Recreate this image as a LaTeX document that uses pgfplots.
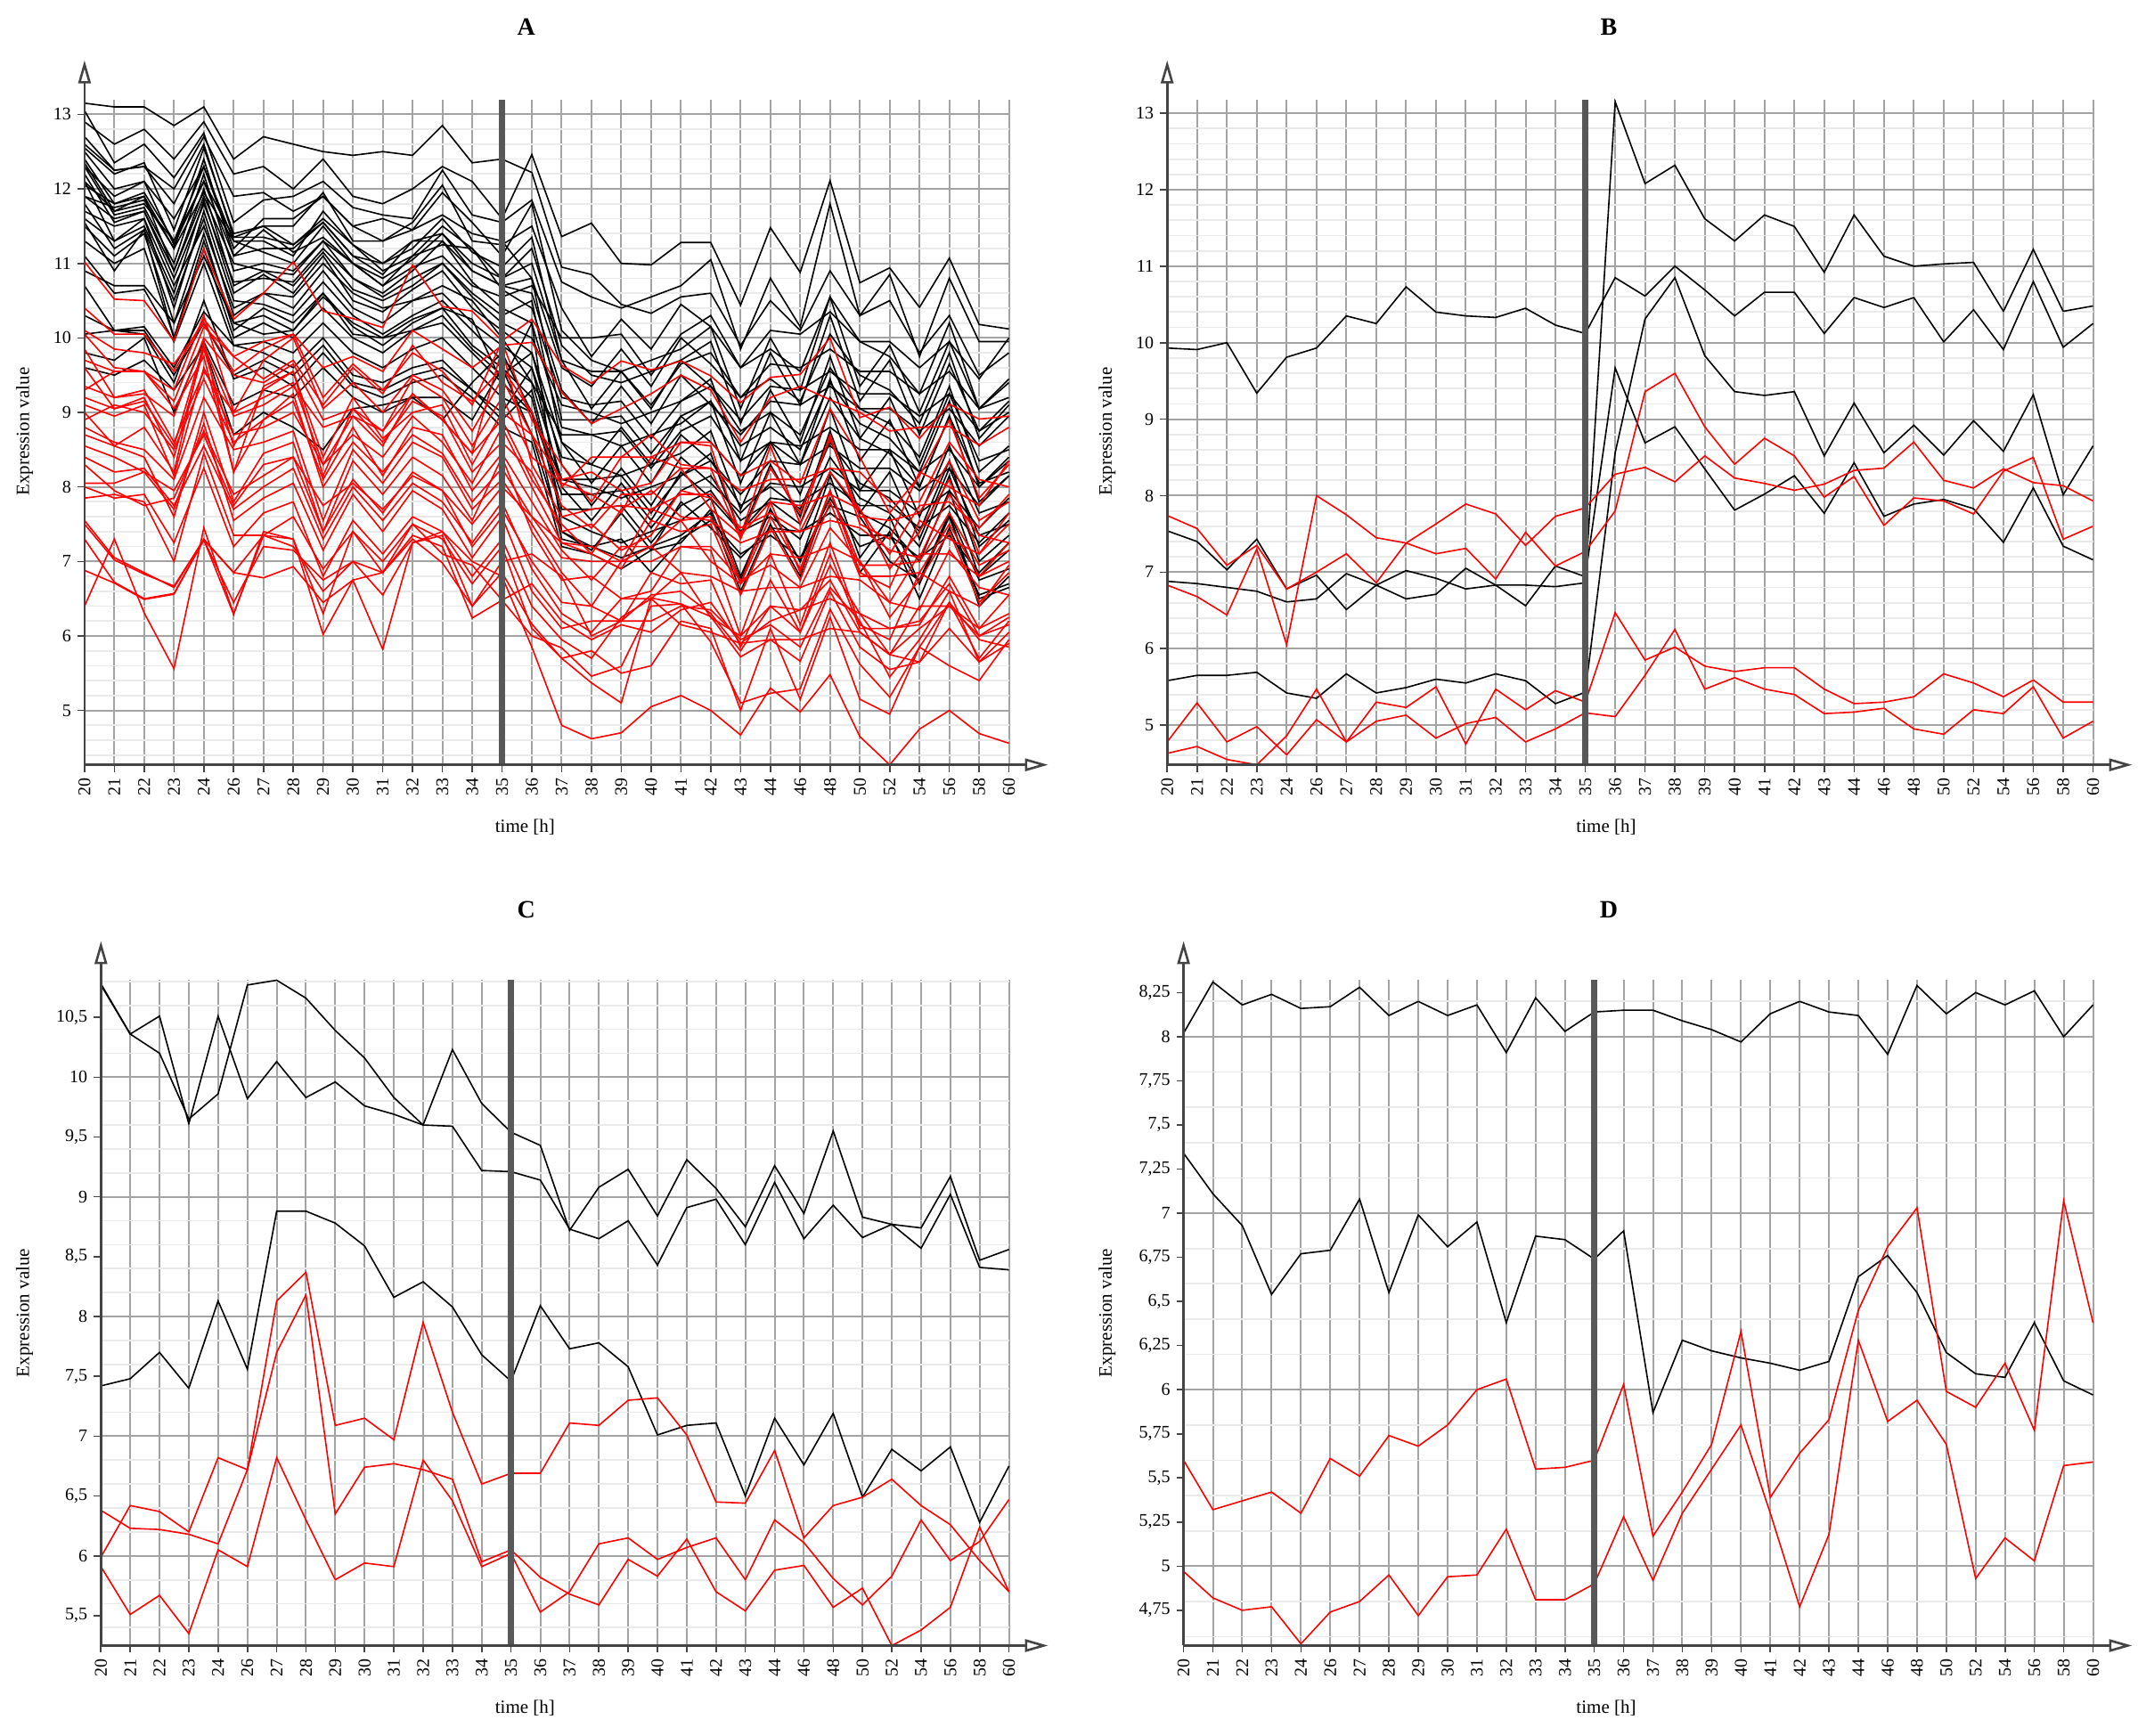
\documentclass[border=0pt]{standalone}
\usepackage{fontspec}
\setmainfont{Liberation Serif}
\usepackage{pgfplots}
\pgfplotsset{compat=1.18}
\usetikzlibrary{arrows.meta}
\definecolor{gridc}{RGB}{163,163,163}
\definecolor{minc}{RGB}{234,234,234}
\definecolor{axc}{RGB}{68,68,68}
\definecolor{barc}{RGB}{88,88,88}
\definecolor{myred}{RGB}{255,0,0}
\tikzset{axarrow/.style={axc, line width=1.3pt, -{Triangle[open, length=13pt, width=7pt]}}}
\pgfplotsset{
  panel/.style={
    scale only axis, height=373.5pt, anchor=south west,
    xmin=0, xmax=31, clip=false,
    xtick={0,...,31},
    xticklabels={20,21,22,23,24,26,27,28,29,30,31,32,33,34,35,36,37,38,39,40,41,42,43,44,46,48,50,52,54,56,58,60},
    x tick label style={rotate=90, anchor=east, font=\fontsize{10}{12}\selectfont},
    y tick label style={font=\fontsize{10}{12}\selectfont},
    xmajorgrids=true, yminorgrids=true,
    major grid style={gridc, line width=1pt},
    minor grid style={minc, line width=0.9pt},
    axis x line*=bottom, axis y line*=left,
    axis line style={draw=none},
    tick align=outside,
    major tick length=4pt, minor tick length=0pt,
    tick style={axc, line width=0.8pt},
    /pgf/number format/assume math mode=true,
  },
  blk/.style={black, line width=0.8pt},
  rd/.style={myred, line width=0.8pt},
}
\newcommand{\ser}[2]{%
  \gdef\crd{}%
  \foreach \v [count=\n from 0] in {#2} {\xdef\crd{\crd(\n,\v)}}%
  \edef\doplot{\noexpand\addplot[#1] coordinates {\crd};}%
  \doplot}
\newcommand{\axes}{%
  \draw[axarrow] (rel axis cs:0,0) -- ([xshift=22pt]rel axis cs:1,0);
  \draw[axarrow] (rel axis cs:0,0) -- ([yshift=22pt]rel axis cs:0,1);}
\begin{document}
\begin{tikzpicture}
\path[use as bounding box] (0,0) rectangle (1200pt,974.5pt);
% ---------------- A ----------------
\begin{axis}[panel, at={(47.45pt,545.15pt)}, width=518.85pt,
  ymin=4.27, ymax=13.2, ytick={5,...,13}, ymajorgrids=true,
  minor ytick={4.4,4.6,4.8,5.2,5.4,5.6,5.8,6.2,6.4,6.6,6.8,7.2,7.4,7.6,7.8,8.2,8.4,8.6,8.8,9.2,9.4,9.6,9.8,10.2,10.4,10.6,10.8,11.2,11.4,11.6,11.8,12.2,12.4,12.6,12.8}]
\ser{blk}{13.15,13.10,13.10,12.85,13.10,12.40,12.70,12.60,12.50,12.45,12.50,12.45,12.85,12.35,12.40,12.22,10.95,10.85,10.45,10.33,10.55,10.60,9.90,10.50,10.10,10.90,10.30,10.50,9.80,10.30,9.50,9.80}
\ser{blk}{12.90,12.60,12.80,12.40,12.90,12.20,12.30,12.00,12.40,11.90,11.80,12.00,12.30,12.10,11.60,12.46,11.36,11.54,11.00,10.98,11.28,11.28,10.44,11.48,10.88,12.11,10.74,10.94,10.41,11.07,10.18,10.12}
\ser{blk}{13.05,12.35,12.60,12.15,12.75,11.55,11.85,11.90,12.10,11.75,11.65,11.60,12.25,11.65,11.55,11.85,10.75,10.55,10.40,10.55,10.70,11.05,9.85,10.80,10.15,11.80,10.30,10.85,9.75,10.80,9.95,9.95}
\ser{blk}{12.70,12.25,12.30,11.80,12.60,11.35,11.50,11.50,11.95,11.30,11.30,11.55,12.05,11.30,11.25,11.50,10.40,9.75,10.25,9.85,10.45,10.15,9.60,10.10,10.05,10.35,9.95,9.95,9.60,9.95,9.45,10.00}
\ser{blk}{12.55,12.20,12.35,11.45,12.55,11.40,11.50,11.25,11.60,11.25,11.00,11.20,11.60,11.15,10.95,11.35,9.70,9.55,9.55,9.10,9.65,9.80,9.20,9.45,9.15,10.05,9.50,9.30,8.85,9.80,8.65,9.10}
\ser{blk}{12.40,11.80,11.95,11.30,12.30,11.30,11.30,11.10,11.70,11.25,10.90,11.10,11.50,11.20,10.80,11.20,9.90,9.50,9.40,9.55,9.70,9.95,8.85,9.80,9.10,10.30,9.15,9.70,8.70,9.65,8.75,9.00}
\ser{blk}{12.35,11.70,11.90,11.20,12.40,11.10,11.45,11.15,11.35,11.00,10.80,11.05,11.40,10.90,10.70,10.60,9.30,8.85,9.35,8.85,9.50,9.10,8.70,9.15,9.10,9.35,9.05,9.05,8.75,9.05,8.55,8.95}
\ser{blk}{12.30,11.65,11.75,11.00,12.20,10.90,11.00,10.90,11.30,10.80,10.60,10.90,11.30,10.75,10.40,10.20,8.80,8.70,8.75,8.25,8.75,8.95,8.35,8.60,8.30,9.20,8.65,8.45,8.00,8.95,7.80,8.15}
\ser{blk}{12.20,11.55,11.70,10.90,12.00,10.70,10.90,10.70,11.15,10.65,10.50,10.70,11.00,10.60,10.30,10.50,8.60,8.30,8.15,8.30,8.45,8.75,7.70,8.60,7.90,9.05,7.95,8.50,7.60,8.55,7.65,7.80}
\ser{blk}{12.10,11.30,11.50,10.60,11.85,10.60,10.85,10.60,11.10,10.50,10.35,10.65,10.90,10.40,10.10,9.80,8.30,7.75,8.25,7.75,8.40,8.05,7.65,8.05,8.00,8.25,7.95,7.95,7.65,7.95,7.45,7.85}
\ser{blk}{12.05,11.80,11.90,10.90,11.90,11.00,10.90,10.85,11.30,11.00,10.70,10.95,11.10,10.70,10.55,10.70,10.00,10.00,10.05,9.50,10.05,10.30,9.60,9.85,9.55,10.55,9.95,9.75,9.25,10.20,9.05,9.40}
\ser{blk}{11.90,11.60,11.70,10.80,11.80,10.75,10.80,10.75,11.20,10.80,10.55,10.80,11.00,10.55,10.20,10.00,9.10,9.00,8.85,9.00,9.15,9.45,8.35,9.30,8.60,9.75,8.65,9.20,8.30,9.25,8.35,8.50}
\ser{blk}{11.80,11.20,11.45,10.50,11.60,10.30,10.60,10.40,10.90,10.40,10.20,10.50,10.60,10.20,9.90,9.60,8.00,7.55,8.05,7.55,8.20,7.85,7.40,7.85,7.80,8.05,7.75,7.75,7.45,7.75,7.25,7.65}
\ser{blk}{11.70,11.50,11.60,10.40,11.70,10.50,10.45,10.30,10.75,10.30,10.05,10.30,10.50,10.10,9.70,9.40,8.70,8.70,8.55,8.70,8.85,9.15,8.05,9.00,8.30,9.45,8.35,8.90,8.00,8.95,8.05,8.20}
\ser{blk}{11.50,11.10,11.40,10.20,11.40,10.10,10.40,10.20,10.60,10.15,9.90,10.20,10.40,9.90,9.60,9.20,7.60,7.40,7.25,7.40,7.55,7.85,6.80,7.70,7.00,8.15,7.05,7.60,6.70,7.65,6.75,6.90}
\ser{blk}{11.55,10.90,11.45,10.00,11.30,10.20,10.30,10.10,10.55,10.20,10.00,10.10,10.30,9.85,9.50,9.80,8.60,8.05,8.55,8.05,8.70,8.35,7.90,8.35,8.30,8.55,8.25,8.25,7.95,8.25,7.75,8.15}
\ser{blk}{11.30,11.00,11.20,10.00,11.20,10.00,10.20,10.00,10.40,10.00,9.80,10.10,10.20,9.80,9.40,10.20,7.40,7.20,7.30,6.85,7.30,7.55,7.10,7.35,7.05,7.75,7.60,7.00,6.75,7.65,6.40,6.80}
\ser{blk}{11.10,10.60,10.65,9.95,11.00,9.90,9.95,9.80,10.20,9.80,9.60,9.85,10.00,9.60,9.20,9.00,8.10,8.00,7.85,8.00,8.15,8.45,7.35,8.30,7.60,8.75,7.65,8.20,7.30,8.25,7.35,7.50}
\ser{blk}{10.70,10.10,10.15,9.60,10.35,9.90,9.80,9.60,10.00,9.50,9.40,9.60,9.70,9.30,9.00,9.60,8.40,8.30,8.80,8.30,8.95,8.60,8.15,8.60,8.55,8.80,8.50,8.50,8.20,8.50,8.00,8.40}
\ser{blk}{10.30,10.10,10.10,9.50,10.20,9.50,9.70,9.50,9.90,9.40,9.30,9.50,9.60,9.30,8.90,9.30,7.70,7.70,7.75,7.25,7.75,7.95,7.40,7.60,7.30,8.20,7.65,7.45,7.00,7.95,6.80,7.15}
\ser{blk}{10.05,10.10,10.05,9.40,10.50,9.45,9.60,9.35,9.80,9.35,9.20,9.40,9.50,9.20,8.80,8.60,7.20,7.10,6.90,7.15,7.25,7.70,6.75,7.70,7.00,7.85,7.20,7.35,6.70,7.60,6.50,6.65}
\ser{blk}{9.80,9.70,10.00,9.00,9.95,9.10,9.30,9.20,9.60,9.20,9.00,9.20,9.20,8.90,9.60,8.70,7.40,7.15,7.65,7.15,7.80,7.45,7.05,7.45,7.40,7.65,7.35,7.35,7.05,7.35,6.85,7.25}
\ser{blk}{9.60,9.50,9.70,9.30,9.90,8.70,9.00,8.80,8.50,9.05,9.10,9.20,8.90,9.40,9.80,9.00,7.90,7.90,7.95,7.45,7.95,8.15,7.55,7.80,7.50,8.40,7.85,7.65,7.20,8.15,7.00,7.35}
\ser{blk}{12.60,12.25,12.30,12.00,12.70,11.90,11.95,11.70,11.90,11.50,11.60,11.45,11.95,11.55,11.10,11.80,10.10,9.70,9.55,9.70,9.85,10.15,9.05,10.00,9.30,10.55,9.35,9.90,9.00,9.95,9.05,9.20}
\ser{blk}{12.50,12.00,12.10,11.60,12.30,11.20,11.60,11.60,11.90,11.50,11.30,11.45,11.65,11.40,11.30,10.80,9.60,9.35,9.85,9.35,10.00,9.65,9.20,9.65,9.60,9.85,9.55,9.55,9.25,9.55,9.05,9.45}
\ser{blk}{12.10,11.70,11.80,11.30,12.10,11.10,11.20,11.20,11.55,11.10,10.85,11.30,11.30,10.90,10.70,10.80,8.90,8.90,8.95,8.45,8.95,9.15,8.55,8.80,8.50,9.40,8.85,8.65,8.20,9.15,8.00,8.35}
\ser{blk}{11.90,11.75,11.85,11.20,11.95,11.30,11.15,11.00,11.50,11.00,10.70,11.10,11.25,11.20,10.65,10.40,9.20,9.10,9.15,8.65,9.15,9.35,8.75,9.00,8.70,9.60,9.05,8.85,8.40,9.35,8.20,8.55}
\ser{blk}{12.30,11.90,12.10,11.25,12.10,11.35,11.35,11.25,11.55,11.10,11.00,11.30,11.40,11.00,10.80,11.00,9.70,9.05,9.55,9.05,9.70,9.35,8.90,9.35,9.30,9.55,9.25,9.25,8.95,9.25,8.75,9.15}
\ser{blk}{11.60,11.30,11.60,10.70,11.50,10.40,10.60,10.55,11.00,10.60,10.40,10.50,10.70,10.50,10.00,9.40,8.10,8.10,8.15,7.65,8.15,8.35,7.75,8.00,7.70,8.60,8.05,7.85,7.40,8.35,7.20,7.55}
\ser{blk}{10.90,10.70,10.70,10.20,11.10,10.20,10.05,10.10,10.60,10.05,10.00,10.25,10.40,10.25,9.40,9.00,7.30,7.20,7.05,7.20,7.35,7.65,6.60,7.50,6.80,7.95,6.85,7.40,6.50,7.45,6.55,6.70}
\ser{rd}{11.02,10.52,10.50,9.96,11.19,10.25,10.60,11.02,10.36,10.26,10.14,10.98,10.42,10.36,9.96,10.25,9.63,9.39,9.69,9.57,9.69,9.49,9.13,9.47,9.51,10.00,8.93,9.07,8.65,9.11,8.91,8.95}
\ser{rd}{10.40,10.05,10.05,9.55,10.25,9.75,9.95,10.05,9.60,9.75,9.55,10.10,9.85,9.60,9.90,9.94,9.27,8.85,9.05,9.25,9.50,9.30,8.60,9.20,9.35,9.17,9.00,8.75,8.80,8.81,8.56,8.80}
\ser{rd}{10.10,9.85,9.80,9.65,10.20,9.55,9.85,10.05,9.20,9.65,9.30,9.80,9.55,9.10,9.95,8.90,8.30,7.80,8.40,8.70,8.30,8.25,7.95,8.10,8.10,8.25,8.20,7.80,7.80,8.60,8.10,8.00}
\ser{rd}{10.05,9.60,9.55,9.30,10.30,9.00,9.70,10.00,9.05,9.40,9.00,9.50,9.30,8.75,9.45,8.70,8.10,8.20,7.95,8.05,8.60,8.55,7.35,8.55,7.50,8.70,7.50,7.30,8.20,8.00,7.75,8.35}
\ser{rd}{9.85,9.20,9.25,8.95,10.00,9.50,9.40,9.65,8.90,9.05,8.75,9.45,9.20,8.55,9.20,8.40,8.05,7.90,7.65,8.40,8.25,8.25,7.30,8.25,7.65,8.65,7.60,7.55,7.65,8.35,7.55,7.80}
\ser{rd}{9.70,9.55,9.55,9.05,9.75,8.20,9.35,9.55,8.40,9.20,8.65,9.00,9.10,8.30,9.00,8.70,7.75,7.45,7.90,7.90,8.25,7.70,7.35,7.80,7.75,7.90,7.70,7.10,7.75,7.80,7.45,7.90}
\ser{rd}{9.60,9.05,9.15,8.55,9.90,8.95,9.10,9.35,8.80,8.95,8.55,9.25,8.90,8.45,9.85,8.30,7.60,7.70,7.75,7.70,7.90,7.90,7.45,7.65,7.40,8.20,7.70,6.90,7.40,8.10,7.10,7.50}
\ser{rd}{9.35,9.20,9.30,8.60,9.55,9.00,9.20,9.40,8.30,8.95,8.75,9.25,8.90,8.45,8.90,8.10,7.50,7.10,7.70,7.95,7.60,7.55,7.25,7.40,7.40,7.55,7.45,7.15,7.05,7.90,7.35,7.25}
\ser{rd}{9.20,9.05,9.20,8.40,9.85,8.55,9.30,9.55,8.15,9.05,8.60,9.15,8.95,8.20,8.60,8.20,7.40,7.50,7.15,7.35,7.95,7.85,6.70,7.80,6.85,7.95,6.85,6.65,7.55,7.30,7.10,7.65}
\ser{rd}{9.10,8.95,9.10,8.15,9.60,8.70,8.80,9.00,8.30,8.70,8.40,8.95,8.60,8.05,8.80,8.00,7.25,7.10,6.90,7.55,7.40,7.50,6.55,7.45,6.75,7.80,6.80,6.80,6.85,7.50,6.80,7.00}
\ser{rd}{9.00,8.55,8.80,8.20,9.95,8.20,8.90,9.15,8.10,8.80,8.15,8.80,8.70,7.95,8.45,7.80,7.15,6.75,7.20,7.20,7.55,7.00,6.70,7.10,7.05,7.20,7.00,6.45,7.10,7.10,6.80,7.25}
\ser{rd}{8.90,9.10,9.00,8.50,9.45,8.60,8.90,9.25,8.00,8.60,8.20,8.70,8.45,7.80,8.25,7.60,7.05,7.00,7.00,7.00,7.20,7.20,6.75,6.95,6.65,7.45,7.00,6.25,6.75,7.40,6.45,6.85}
\ser{rd}{8.80,8.60,8.50,8.10,9.20,8.50,8.60,8.75,7.55,8.50,8.05,8.60,8.40,7.70,8.10,7.50,6.85,6.40,7.00,7.20,6.85,6.80,6.60,6.65,6.65,6.80,6.75,6.45,6.35,7.15,6.65,6.55}
\ser{rd}{8.70,8.55,8.40,7.60,9.00,7.80,8.45,8.60,7.40,8.35,7.90,8.40,8.15,7.55,8.40,7.40,6.75,6.80,6.50,6.60,7.20,7.15,6.00,7.10,6.15,7.25,6.15,5.95,6.85,6.60,6.40,6.95}
\ser{rd}{8.55,8.40,8.20,7.95,8.70,7.75,8.30,8.40,7.40,8.10,7.65,8.20,7.95,7.20,7.70,7.00,6.45,6.40,6.20,6.85,6.70,6.75,5.85,6.75,6.05,7.10,6.10,6.10,6.15,6.80,6.10,6.30}
\ser{rd}{8.40,8.20,8.25,7.75,8.55,7.70,8.00,8.25,7.30,8.00,7.55,8.05,7.80,7.25,7.80,6.90,6.30,6.05,6.50,6.50,6.85,6.25,6.00,6.40,6.35,6.50,6.30,5.75,6.40,6.40,6.10,6.55}
\ser{rd}{8.05,8.05,8.20,7.70,8.85,7.55,7.85,8.05,7.15,7.90,7.40,7.95,7.70,7.05,7.60,6.60,6.10,6.20,6.20,6.20,6.40,6.35,5.95,6.15,5.85,6.65,6.20,5.45,5.95,6.60,5.65,6.05}
\ser{rd}{8.00,7.85,7.90,7.25,8.25,7.20,7.65,7.80,6.80,7.55,7.10,7.60,7.40,6.80,7.30,6.40,5.95,5.70,6.25,6.50,6.15,6.05,5.90,5.95,5.95,6.10,6.05,5.75,5.65,6.45,5.95,5.85}
\ser{rd}{7.85,7.90,7.80,7.00,8.45,7.35,7.35,7.60,6.90,7.40,7.00,7.50,7.30,6.70,7.20,6.10,5.70,5.80,5.50,5.60,6.20,6.10,5.00,6.10,5.15,6.25,5.15,4.95,5.85,5.60,5.40,5.95}
\ser{rd}{7.55,7.05,6.85,6.65,7.30,6.85,7.35,7.20,6.60,7.00,6.55,7.25,7.40,7.00,6.80,5.85,4.80,4.62,4.70,5.05,5.20,5.00,4.67,5.30,4.98,5.48,4.65,4.27,4.75,5.00,4.69,4.56}
\ser{rd}{7.30,6.72,6.50,6.57,7.29,6.85,6.78,6.93,6.45,6.75,5.82,7.25,7.35,6.40,6.85,6.16,5.70,5.37,5.10,6.51,6.43,5.92,5.10,5.23,5.29,6.36,5.62,5.18,5.85,6.45,5.70,6.20}
\ser{rd}{6.88,6.71,6.49,6.56,7.29,6.29,7.40,7.30,6.02,6.75,6.85,7.35,7.20,6.24,6.48,6.00,5.84,5.46,5.59,6.40,6.43,6.26,5.72,5.95,5.66,6.60,5.85,5.55,5.65,6.10,5.65,5.90}
\ser{rd}{6.40,7.30,6.31,5.56,7.45,6.30,7.35,7.30,6.30,7.40,6.85,7.50,7.10,6.95,6.48,6.70,6.20,5.95,6.15,6.05,6.35,6.45,5.90,6.20,6.35,6.75,6.05,5.75,6.10,6.40,6.00,6.15}
\ser{rd}{7.50,7.02,6.83,6.67,7.29,6.45,7.20,7.15,6.75,7.00,6.85,7.30,6.98,6.40,7.00,7.10,6.80,6.00,6.20,6.55,6.60,6.30,5.80,6.40,6.05,6.95,6.30,6.10,6.20,6.70,6.00,6.25}
\ser{rd}{9.30,9.55,9.55,9.15,10.15,9.75,9.45,9.70,9.10,9.60,9.25,9.90,9.40,9.15,9.60,9.00,8.00,8.40,8.40,8.40,8.60,8.60,8.15,8.35,8.05,9.05,8.40,7.65,8.15,8.90,7.85,8.30}
\ser{rd}{8.30,7.95,7.75,7.85,8.75,7.90,8.15,8.40,7.75,8.05,7.70,8.15,7.95,7.50,8.00,7.60,7.25,7.20,7.00,7.70,7.55,7.60,6.70,7.60,6.90,7.95,6.95,6.95,7.00,7.65,6.95,7.15}
\addplot[barc, line width=3.5pt] coordinates {(14,4.27) (14,13.2)};
\axes
\end{axis}
% ---------------- B ----------------
\begin{axis}[panel, at={(655.1pt,545.15pt)}, width=519.65pt,
  ymin=4.48, ymax=13.18, ytick={5,...,13}, ymajorgrids=true,
  minor ytick={4.6,4.8,5.2,5.4,5.6,5.8,6.2,6.4,6.6,6.8,7.2,7.4,7.6,7.8,8.2,8.4,8.6,8.8,9.2,9.4,9.6,9.8,10.2,10.4,10.6,10.8,11.2,11.4,11.6,11.8,12.2,12.4,12.6,12.8}]
\ser{blk}{9.93,9.91,10.00,9.34,9.81,9.93,10.35,10.25,10.73,10.40,10.35,10.33,10.45,10.23,10.12,10.85,10.61,11.00,10.69,10.35,10.66,10.66,10.12,10.59,10.46,10.59,10.01,10.43,9.91,10.80,9.94,10.25}
\ser{blk}{7.54,7.40,7.03,7.43,6.78,6.96,6.51,6.83,7.02,6.92,6.78,6.83,6.56,7.08,6.94,9.67,8.69,8.90,8.35,7.81,8.02,8.26,7.77,8.43,7.73,7.89,7.95,7.83,7.39,8.10,7.34,7.16}
\ser{blk}{6.88,6.85,6.80,6.75,6.61,6.65,6.98,6.83,6.65,6.71,7.05,6.83,6.83,6.81,6.86,13.15,12.08,12.32,11.62,11.33,11.67,11.52,10.92,11.67,11.13,11.00,11.03,11.05,10.41,11.22,10.41,10.48}
\ser{blk}{5.58,5.65,5.65,5.69,5.42,5.35,5.67,5.42,5.49,5.60,5.55,5.67,5.58,5.28,5.43,8.56,10.31,10.85,9.83,9.36,9.31,9.36,8.52,9.21,8.56,8.92,8.53,8.98,8.58,9.32,8.01,8.65}
\ser{rd}{7.74,7.57,7.09,7.35,6.78,7.00,7.24,6.86,7.38,7.63,7.89,7.76,7.35,7.73,7.84,8.28,8.37,8.18,8.52,8.23,8.16,8.07,8.15,8.33,8.36,8.70,8.20,8.10,8.35,8.17,8.13,7.93}
\ser{rd}{6.83,6.68,6.44,7.30,6.05,8.00,7.75,7.45,7.38,7.24,7.31,6.91,7.52,7.08,7.27,7.80,9.36,9.60,8.90,8.41,8.75,8.52,7.98,8.25,7.61,7.97,7.93,7.76,8.32,8.50,7.43,7.60}
\ser{rd}{4.78,5.29,4.78,4.98,4.61,5.07,4.78,5.05,5.13,4.83,5.02,5.10,4.78,4.95,5.16,5.11,5.65,6.25,5.47,5.62,5.47,5.40,5.15,5.17,5.22,4.95,4.88,5.20,5.15,5.50,4.83,5.05}
\ser{rd}{4.63,4.72,4.55,4.48,4.86,5.47,4.78,5.30,5.23,5.50,4.75,5.47,5.20,5.45,5.30,6.47,5.85,6.02,5.77,5.70,5.75,5.75,5.47,5.28,5.30,5.37,5.67,5.55,5.37,5.59,5.30,5.30}
\addplot[barc, line width=3.5pt] coordinates {(14,4.48) (14,13.18)};
\axes
\end{axis}
% ---------------- C ----------------
\begin{axis}[panel, at={(56.65pt,50.75pt)}, width=509.65pt,
  ymin=5.25, ymax=10.81, ytick={5.5,6,...,10.5}, ymajorgrids=false,
  yticklabel style={/pgf/number format/.cd, use comma, fixed, precision=2},
  extra y ticks={6,7,8,9,10}, extra y tick labels={},
  extra y tick style={grid=major, major tick length=0pt},
  minor ytick={5.4,5.6,5.8,6.2,6.4,6.6,6.8,7.2,7.4,7.6,7.8,8.2,8.4,8.6,8.8,9.2,9.4,9.6,9.8,10.2,10.4,10.6,10.8}]
\ser{blk}{10.78,10.36,10.20,9.65,9.86,10.77,10.81,10.66,10.39,10.16,9.83,9.60,10.23,9.78,9.54,9.43,8.72,9.08,9.23,8.84,9.31,9.07,8.75,9.26,8.86,9.55,8.83,8.77,8.74,9.17,8.47,8.56}
\ser{blk}{10.77,10.36,10.51,9.61,10.51,9.82,10.13,9.83,9.96,9.76,9.69,9.60,9.59,9.22,9.21,9.14,8.73,8.65,8.80,8.43,8.91,8.98,8.60,9.12,8.65,8.93,8.66,8.77,8.57,9.02,8.41,8.39}
\ser{blk}{7.42,7.48,7.70,7.40,8.13,7.56,8.88,8.88,8.78,8.59,8.16,8.29,8.08,7.68,7.46,8.09,7.73,7.78,7.58,7.01,7.09,7.11,6.50,7.15,6.76,7.19,6.49,6.89,6.71,6.91,6.28,6.75}
\ser{rd}{6.38,6.23,6.22,6.18,6.10,6.72,7.70,8.18,6.35,6.74,6.77,6.72,6.64,5.95,6.05,5.82,5.68,5.59,5.97,5.83,6.14,5.70,5.54,5.88,5.92,5.57,5.73,5.25,5.38,5.57,6.24,5.70}
\ser{rd}{5.99,6.42,6.37,6.20,6.82,6.72,8.13,8.37,7.09,7.15,6.97,7.95,7.20,6.60,6.69,6.69,7.11,7.09,7.30,7.32,7.01,6.45,6.44,6.88,6.15,6.42,6.49,6.64,6.42,6.26,5.96,5.70}
\ser{rd}{5.91,5.51,5.67,5.35,6.05,5.91,6.82,6.30,5.80,5.94,5.91,6.80,6.46,5.91,6.02,5.53,5.70,6.10,6.15,5.97,6.07,6.15,5.80,6.30,6.11,5.81,5.59,5.83,6.30,5.96,6.12,6.47}
\addplot[barc, line width=3.5pt] coordinates {(14,5.25) (14,10.81)};
\axes
\end{axis}
% ---------------- D ----------------
\begin{axis}[panel, at={(664.3pt,50.75pt)}, width=510.45pt,
  ymin=4.55, ymax=8.32, ytick={4.75,5,...,8.25}, ymajorgrids=false,
  yticklabel style={/pgf/number format/.cd, use comma, fixed, precision=2},
  extra y ticks={5,6,7,8}, extra y tick labels={},
  extra y tick style={grid=major, major tick length=0pt},
  minor ytick={4.6,4.8,5.2,5.4,5.6,5.8,6.2,6.4,6.6,6.8,7.2,7.4,7.6,7.8,8.2}]
\ser{blk}{8.02,8.31,8.18,8.24,8.16,8.17,8.28,8.12,8.20,8.12,8.18,7.91,8.22,8.03,8.14,8.15,8.15,8.09,8.04,7.97,8.13,8.20,8.14,8.12,7.90,8.29,8.13,8.25,8.18,8.26,8.00,8.18}
\ser{blk}{7.34,7.11,6.93,6.54,6.77,6.79,7.08,6.55,6.99,6.81,6.95,6.38,6.87,6.85,6.74,6.90,5.87,6.28,6.22,6.18,6.15,6.11,6.16,6.64,6.76,6.55,6.21,6.09,6.07,6.38,6.05,5.97}
\ser{rd}{5.60,5.32,5.37,5.42,5.30,5.61,5.51,5.74,5.68,5.80,6.00,6.06,5.55,5.56,5.60,6.03,5.17,5.42,5.69,6.33,5.39,5.64,5.83,6.45,6.81,7.03,5.99,5.90,6.15,5.77,7.07,6.38}
\ser{rd}{4.97,4.82,4.75,4.77,4.56,4.74,4.80,4.95,4.72,4.94,4.95,5.21,4.81,4.81,4.90,5.28,4.92,5.30,5.55,5.80,5.30,4.77,5.18,6.28,5.82,5.94,5.69,4.93,5.16,5.03,5.57,5.59}
\addplot[barc, line width=3.5pt] coordinates {(14,4.55) (14,8.32)};
\axes
\end{axis}
% ---------------- texts ----------------
\begin{scope}[every node/.style={font=\fontsize{10.5}{12}\selectfont}]
\node[font=\fontsize{14}{16}\selectfont\bfseries] at (295.4pt,959.2pt) {A};
\node[font=\fontsize{14}{16}\selectfont\bfseries] at (903pt,959.2pt) {B};
\node[font=\fontsize{14}{16}\selectfont\bfseries] at (295.4pt,464pt) {C};
\node[font=\fontsize{14}{16}\selectfont\bfseries] at (903pt,464pt) {D};
\node[rotate=90] at (13.8pt,732.2pt) {Expression value};
\node[rotate=90] at (621.4pt,732.2pt) {Expression value};
\node[rotate=90] at (13.8pt,237.5pt) {Expression value};
\node[rotate=90] at (621.4pt,237.5pt) {Expression value};
\node at (294.7pt,510pt) {time [h]};
\node at (901.5pt,510pt) {time [h]};
\node at (294.7pt,15.6pt) {time [h]};
\node at (901.5pt,15.6pt) {time [h]};
\end{scope}
\end{tikzpicture}
\end{document}
